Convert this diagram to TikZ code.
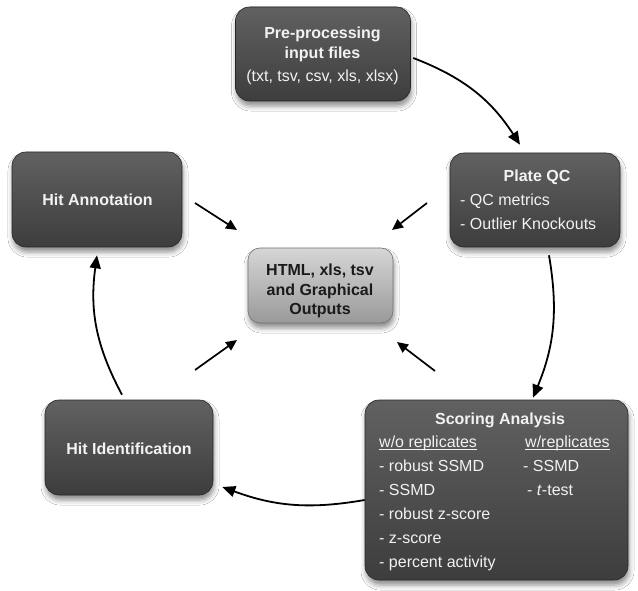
\documentclass[tikz,border=0pt]{standalone}
\usepackage{fontspec}
\setmainfont{Liberation Sans}
\usetikzlibrary{shadows.blur,arrows.meta,calc}
\newcommand\myul[1]{\setbox0\hbox{#1}\rlap{\rule[-3.2pt]{\wd0}{1.1pt}}\box0}
\definecolor{boxtext}{HTML}{F2F2F2}
\definecolor{ctrtext}{HTML}{1A1A1A}
\begin{document}
\begin{tikzpicture}[x=1pt,y=-1pt,
  boxshadow/.style={blur shadow={shadow xshift=1pt, shadow yshift=-5pt, shadow blur radius=5pt, shadow opacity=45}},
  darkbox/.style={rounded corners=14pt, draw=black!85, line width=0.6pt, top color=black!62, bottom color=black!76, boxshadow, inner sep=0pt},
  lightbox/.style={rounded corners=12pt, draw=black!55, line width=0.6pt, top color=black!16, bottom color=black!40, boxshadow, inner sep=0pt},
  wtxt/.style={text=boxtext, font=\fontsize{16}{19}\selectfont, inner sep=0pt},
  wtitle/.style={text=boxtext, font=\bfseries\fontsize{16}{19}\selectfont, inner sep=0pt},
  ctxt/.style={text=ctrtext, font=\bfseries\fontsize{16}{19}\selectfont, inner sep=0pt, anchor=base},
  flow/.style={-{Triangle[length=13pt,width=11pt]}, line width=1.8pt, black},
  short/.style={-{Triangle[length=11pt,width=10pt]}, line width=1.7pt, black}
]
\useasboundingbox[fill=white] (0,0) rectangle (638,591);

% boxes
\node[darkbox, minimum width=175pt, minimum height=94pt] (pre) at (323,54) {};
\node[darkbox, minimum width=170pt, minimum height=94pt] (plate) at (535,200) {};
\node[darkbox, minimum width=170pt, minimum height=95pt] (hitann) at (97,199.5) {};
\node[darkbox, minimum width=168pt, minimum height=95pt] (hitid) at (129,447.5) {};
\node[darkbox, minimum width=263pt, minimum height=180pt] (score) at (496.5,490) {};
\node[lightbox, minimum width=145pt, minimum height=75pt] (out) at (320.5,285.5) {};

% Pre-processing text
\node[wtitle, anchor=base] (preA) at (322.5,39) {Pre-processing};
\node[wtitle, anchor=base] (preB) at (322.5,59) {input files};
\node[wtxt, anchor=base] (preC) at (322.5,82) {(txt, tsv, csv, xls, xlsx)};

% Plate QC text
\node[wtitle, anchor=base] (plateA) at (537,181.5) {Plate QC};
\node[wtxt, anchor=base west] (plateB) at (460,205.5) {- QC metrics};
\node[wtxt, anchor=base west] (plateC) at (460,229.5) {- Outlier Knockouts};

% Hit boxes text
\node[wtitle, anchor=base] (hitannT) at (97.5,205.5) {Hit Annotation};
\node[wtitle, anchor=base] (hitidT) at (129,454) {Hit Identification};

% centre text
\node[ctxt] (outA) at (320,275.5) {HTML, xls, tsv};
\node[ctxt] (outB) at (320,295) {and Graphical};
\node[ctxt] (outC) at (320,314) {Outputs};

% Scoring text
\node[wtitle, anchor=base] (scT) at (500,424) {Scoring Analysis};
\node[wtxt, anchor=base west] (scL0) at (379,447) {\myul{w/o replicates}};
\node[wtxt, anchor=base west] (scL1) at (379,471) {- robust SSMD};
\node[wtxt, anchor=base west] (scL2) at (379,495) {- SSMD};
\node[wtxt, anchor=base west] (scL3) at (379,519) {- robust z-score};
\node[wtxt, anchor=base west] (scL4) at (379,543) {- z-score};
\node[wtxt, anchor=base west] (scL5) at (379,567) {- percent activity};
\node[wtxt, anchor=base west] (scR0) at (525,447) {\myul{w/replicates}};
\node[wtxt, anchor=base west] (scR1) at (523,471) {- SSMD};
\node[wtxt, anchor=base west] (scR2) at (527,495) {- \textit{t}-test};

% cycle arrows
\coordinate (a1s) at ($(pre.east)+(2.5,4)$);
\coordinate (a1e) at ($(plate.north)+(-15,-8)$);
\coordinate (a2s) at ($(plate.south)+(14,8)$);
\coordinate (a2e) at ($(score.north)+(36.5,-2)$);
\coordinate (a3s) at ($(score.west)+(0,10)$);
\coordinate (a3e) at ($(hitid.east)+(9,39.5)$);
\coordinate (a4s) at ($(hitid.north)+(-7,-5)$);
\coordinate (a4e) at ($(hitann.south)+(0,8)$);
\draw[flow] (a1s) to[bend left=18] (a1e);
\draw[flow] (a2s) to[bend left=16] (a2e);
\draw[flow] (a3s) to[bend left=15] (a3e);
\draw[flow] (a4s) to[bend left=18] (a4e);

% short arrows to outputs
\coordinate (s1s) at (195,203); \coordinate (s1e) at (237,230);
\coordinate (s2s) at (427,203); \coordinate (s2e) at (392,230);
\coordinate (s3s) at (195,370); \coordinate (s3e) at (237,340);
\coordinate (s4s) at (435,371); \coordinate (s4e) at (397,342);
\draw[short] (s1s) -- (s1e);
\draw[short] (s2s) -- (s2e);
\draw[short] (s3s) -- (s3e);
\draw[short] (s4s) -- (s4e);
\end{tikzpicture}
\end{document}
